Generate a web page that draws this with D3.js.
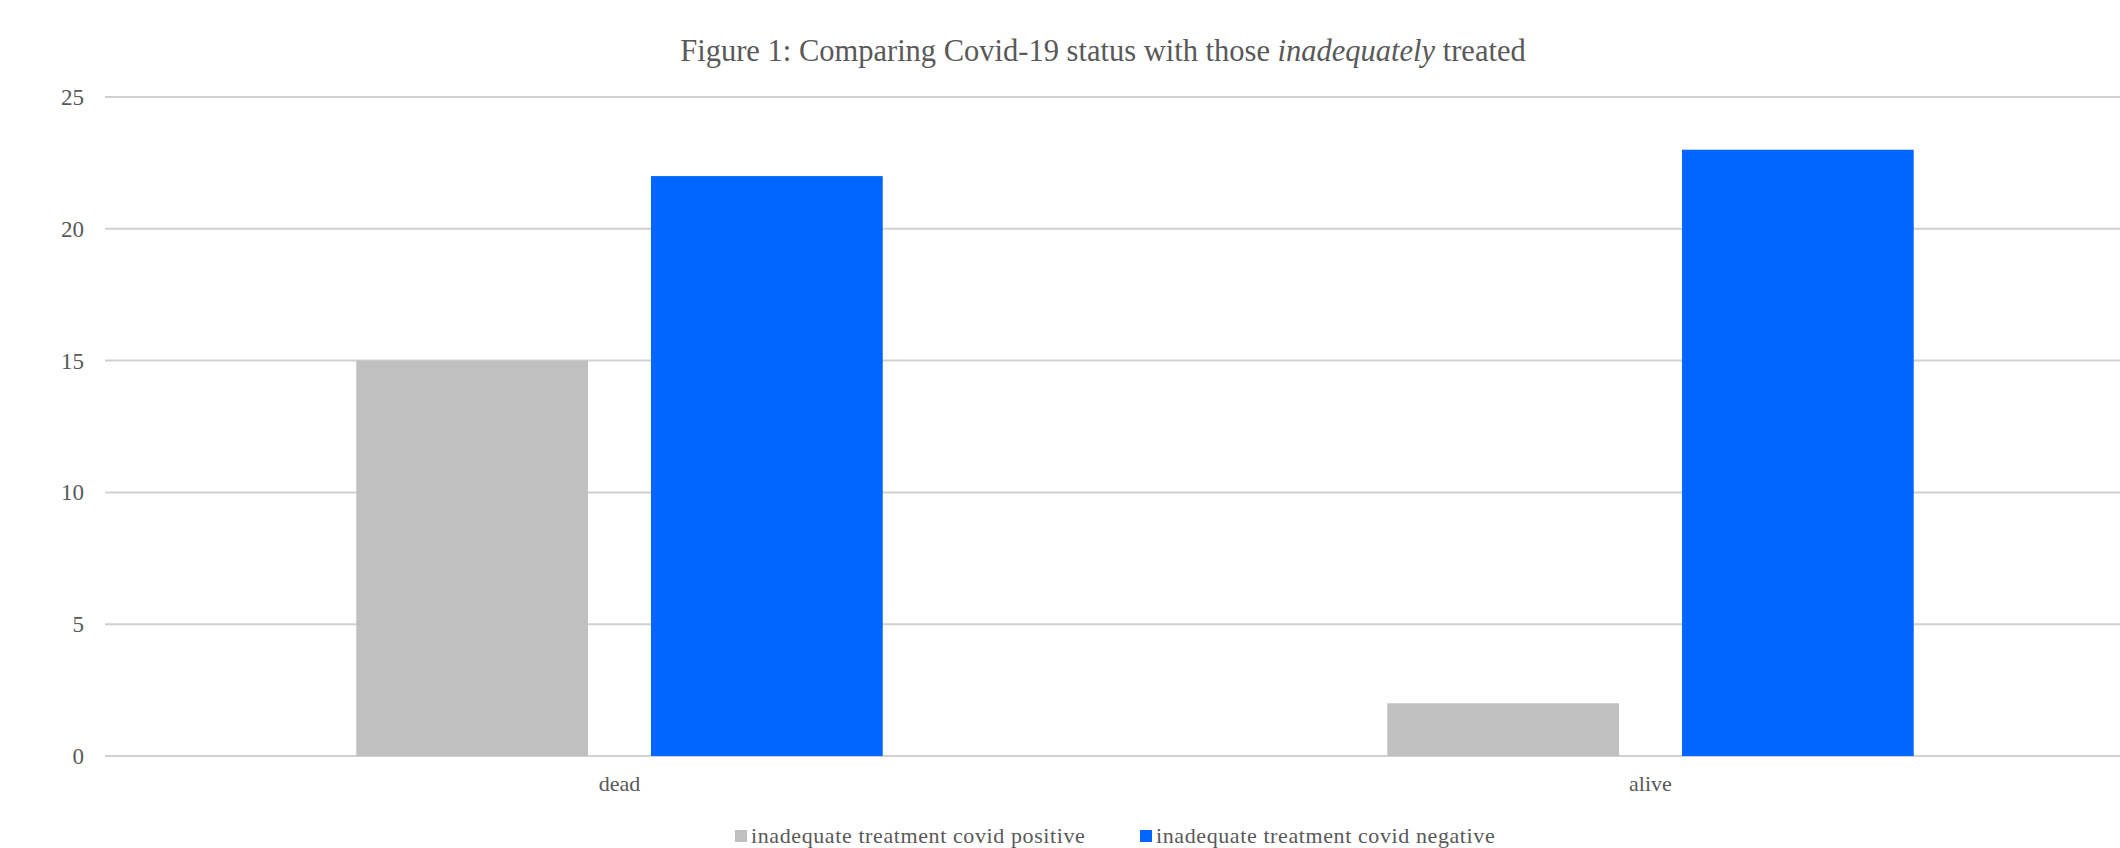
<!DOCTYPE html>
<html>
<head>
<meta charset="utf-8">
<script src="https://cdn.jsdelivr.net/npm/d3@7"></script>
<style>
  body { margin: 0; background: #fff; }
  svg { display: block; }
  text { font-family: "Liberation Serif", "Times New Roman", serif; fill: #595959; }
</style>
</head>
<body>
<div class="canvas"></div>
<script>
// data
const categories = ["dead", "alive"];
const seriesNames = ["inadequate treatment covid positive", "inadequate treatment covid negative"];
const positiveValues = [15, 2];
const negativeValues = [22, 23];
const yTicks = [0, 5, 10, 15, 20, 25];
const colors = ["#c0c0c0", "#0066ff"];

const W = 2120, H = 848;
const margin = { top: 97, left: 104, bottom: 92 };

const data = categories.map((c, i) => ({
    cat: c,
    vals: [positiveValues[i], negativeValues[i]]
}));

const svg = d3.select(".canvas")
    .append("svg")
        .attr("width", W)
        .attr("height", H);

// scales
const x0 = d3.scaleBand()
    .domain(categories)
    .range([margin.left, margin.left + 2 * 1031])
    .padding(0);

const x1 = d3.scaleBand()
    .domain(d3.range(seriesNames.length))
    .range([0, x0.bandwidth()])
    .paddingInner(0.2136)
    .paddingOuter(0.856);

const y = d3.scaleLinear()
    .domain([0, 25])
    .range([H - margin.bottom, margin.top]);

// gridlines
svg.append("g")
    .selectAll("line")
    .data(yTicks)
    .join("line")
        .attr("x1", 105)
        .attr("x2", W)
        .attr("y1", d => y(d))
        .attr("y2", d => y(d))
        .attr("stroke", "#d0d0d0")
        .attr("stroke-width", 2);

// y labels
svg.append("g")
    .selectAll("text")
    .data(yTicks)
    .join("text")
        .attr("x", 84)
        .attr("y", d => y(d))
        .attr("dy", "0.35em")
        .attr("text-anchor", "end")
        .style("font-size", "23px")
        .text(d => d);

// bars
const groups = svg.append("g")
    .selectAll("g")
    .data(data)
    .join("g")
        .attr("transform", d => `translate(${x0(d.cat)},0)`);

groups.selectAll("rect")
    .data(d => d.vals)
    .join("rect")
        .attr("x", (d, i) => x1(i))
        .attr("width", x1.bandwidth())
        .attr("y", d => y(d))
        .attr("height", d => y(0) - y(d))
        .attr("fill", (d, i) => colors[i]);

// category labels
svg.append("g")
    .selectAll("text")
    .data(categories)
    .join("text")
        .attr("x", d => x0(d) + x0.bandwidth() / 2)
        .attr("y", 791)
        .attr("text-anchor", "middle")
        .style("font-size", "22px")
        .text(d => d);

// title
const title = svg.append("text")
    .attr("x", 1103)
    .attr("y", 61)
    .attr("text-anchor", "middle")
    .style("font-size", "30.5px");
title.append("tspan").text("Figure 1: Comparing Covid-19 status with those ");
title.append("tspan").style("font-style", "italic").text("inadequately");
title.append("tspan").text(" treated");

// legend
const legendX = [735, 1140];
const legend = svg.append("g")
    .selectAll("g")
    .data(seriesNames)
    .join("g")
        .attr("transform", (d, i) => `translate(${legendX[i]},830)`);

legend.append("rect")
    .attr("width", 12)
    .attr("height", 12)
    .attr("fill", (d, i) => colors[i]);

legend.append("text")
    .attr("x", 16)
    .attr("y", 13)
    .style("font-size", "22px")
    .style("letter-spacing", "0.6px")
    .text(d => d);
</script>
</body>
</html>
